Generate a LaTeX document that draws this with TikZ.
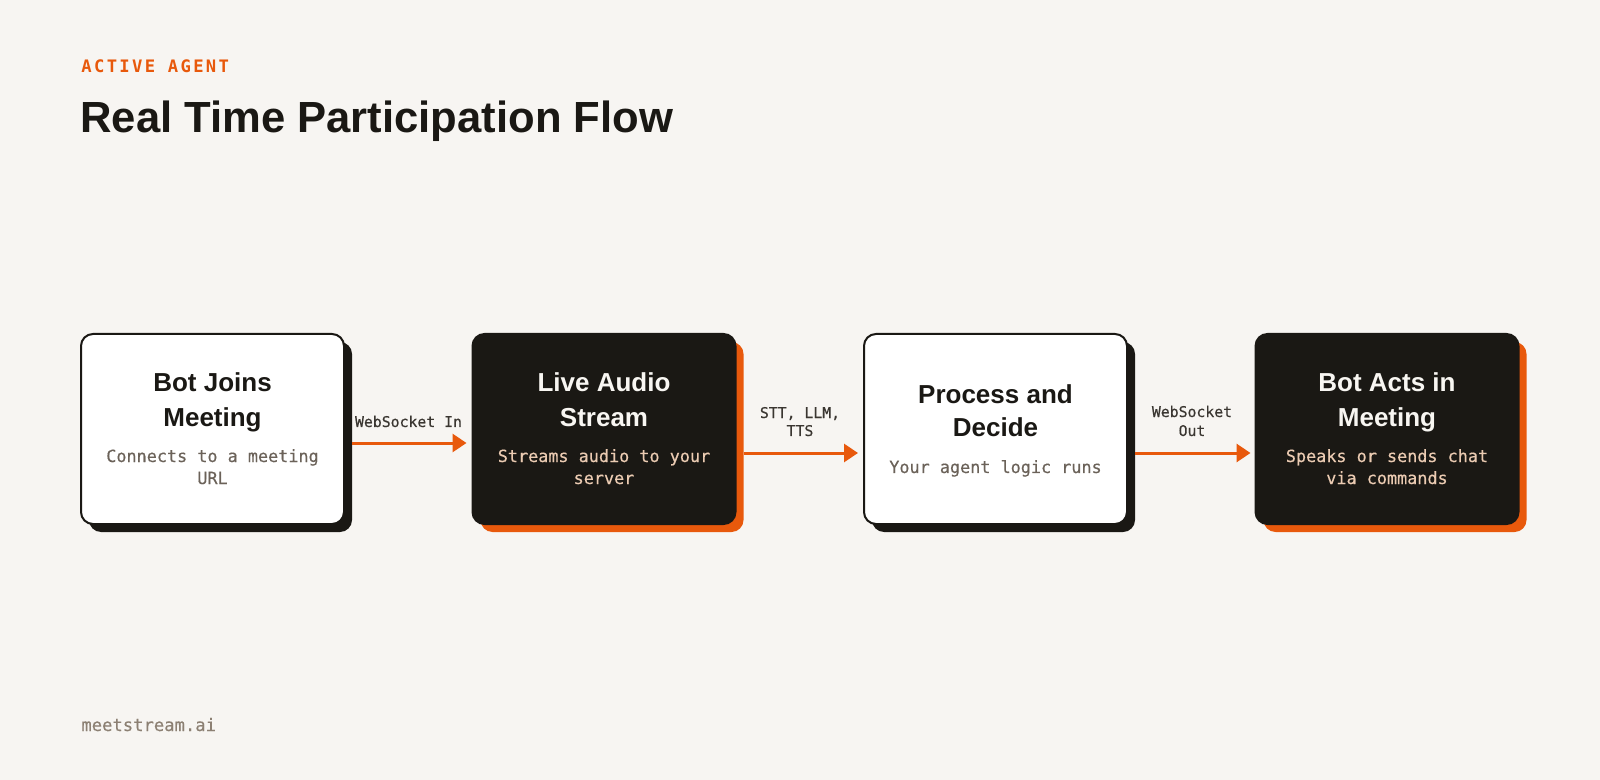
\documentclass[tikz,border=0pt]{standalone}
\usepackage{fontspec}
\setmainfont{Liberation Sans}
\newfontfamily\monofam{DejaVu Sans Mono}[FakeBold=0.4]
\newfontfamily\monospaced{DejaVu Sans Mono}[LetterSpace=13.6]
\usetikzlibrary{shadows,arrows.meta}
\definecolor{bg}{HTML}{F7F5F2}
\definecolor{ink}{HTML}{1A1814}
\definecolor{accent}{HTML}{E8590C}
\definecolor{subgray}{HTML}{6B6259}
\definecolor{peach}{HTML}{EBCBB2}
\definecolor{lblgray}{HTML}{3A3631}
\definecolor{footgray}{HTML}{8C8073}
\definecolor{paper}{HTML}{FFFFFF}
\definecolor{offwhite}{HTML}{F8F6F2}
\begin{document}
\begin{tikzpicture}[x=0.5pt,y=-0.5pt,
  card/.style={rounded corners=6pt, minimum width=131.5pt, minimum height=95pt, inner sep=0pt},
  lightcard/.style={card, fill=paper, draw=ink, line width=1pt,
    general shadow={fill=ink, shadow xshift=4pt, shadow yshift=-4pt}},
  darkcard/.style={card, fill=ink, draw=ink, line width=1pt,
    general shadow={fill=accent, shadow xshift=4pt, shadow yshift=-4pt}},
  cardtitle/.style={font={\fontsize{13}{17}\selectfont\bfseries}, anchor=base, inner sep=0pt},
  cardsub/.style={font={\monofam\fontsize{8.4}{11}\selectfont}, anchor=base, inner sep=0pt},
  lbl/.style={font={\monofam\fontsize{7.4}{9}\selectfont}, text=lblgray, anchor=base, inner sep=0pt},
  flow/.style={draw=accent, line width=1.5pt, -{Triangle[length=7pt,width=9pt]}}
]
\useasboundingbox[fill=bg] (0,0) rectangle (1600,780);

% header
\node[anchor=base west, inner sep=0pt, text=accent, font={\monospaced\fontsize{8.6}{10}\selectfont\bfseries}] (kicker) at (81,73) {ACTIVE AGENT};
\node[anchor=base west, inner sep=0pt, text=ink, font={\fontsize{21.8}{26}\selectfont\bfseries}] (title) at (80,133) {Real Time Participation Flow};

% cards
\node[lightcard] (b1) at (212.5,429) {};
\node[darkcard]  (b2) at (604,429) {};
\node[lightcard] (b3) at (995.5,429) {};
\node[darkcard]  (b4) at (1387,429) {};

% card 1 text
\node[cardtitle, text=ink] (b1t1) at (212.5,392) {Bot Joins};
\node[cardtitle, text=ink] (b1t2) at (212.5,426) {Meeting};
\node[cardsub, text=subgray] (b1s1) at (212.5,462) {Connects to a meeting};
\node[cardsub, text=subgray] (b1s2) at (212.5,484) {URL};

% card 2 text
\node[cardtitle, text=offwhite] (b2t1) at (604,392) {Live Audio};
\node[cardtitle, text=offwhite] (b2t2) at (604,426) {Stream};
\node[cardsub, text=peach] (b2s1) at (604,462) {Streams audio to your};
\node[cardsub, text=peach] (b2s2) at (604,484) {server};

% card 3 text
\node[cardtitle, text=ink] (b3t1) at (995.5,403) {Process and};
\node[cardtitle, text=ink] (b3t2) at (995.5,437) {Decide};
\node[cardsub, text=subgray] (b3s1) at (995.5,473) {Your agent logic runs};

% card 4 text
\node[cardtitle, text=offwhite] (b4t1) at (1387,392) {Bot Acts in};
\node[cardtitle, text=offwhite] (b4t2) at (1387,426) {Meeting};
\node[cardsub, text=peach] (b4s1) at (1387,462) {Speaks or sends chat};
\node[cardsub, text=peach] (b4s2) at (1387,484) {via commands};

% connectors
\draw[flow] ([shift={(7,14)}]b1.east) -- ([shift={(-5,14)}]b2.west);
\draw[flow] ([shift={(7,24)}]b2.east) -- ([shift={(-5,24)}]b3.west);
\draw[flow] ([shift={(7,24)}]b3.east) -- ([shift={(-4,24)}]b4.west);

% connector labels
\node[lbl] (l1) at (408.5,427) {WebSocket In};
\node[lbl] (l2a) at (800,418) {STT, LLM,};
\node[lbl] (l2b) at (800,436) {TTS};
\node[lbl] (l3a) at (1192,417) {WebSocket};
\node[lbl] (l3b) at (1192,436) {Out};

% footer
\node[anchor=base west, inner sep=0pt, text=footgray, font={\monofam\fontsize{8.6}{10}\selectfont}] (foot) at (81,731) {meetstream.ai};
\end{tikzpicture}
\end{document}
